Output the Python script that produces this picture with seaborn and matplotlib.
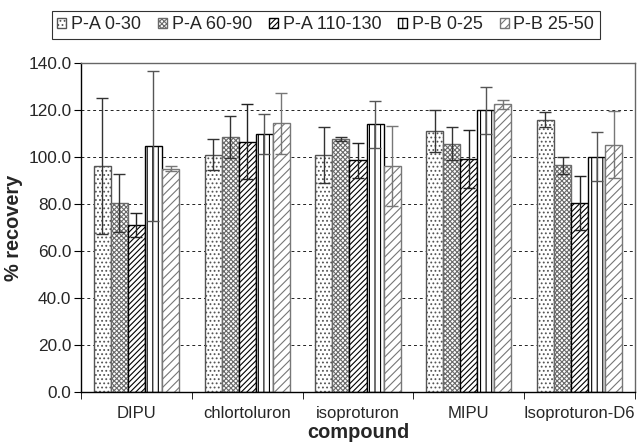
import numpy as np
import pandas as pd
import seaborn as sns
import matplotlib.pyplot as plt
from matplotlib.ticker import FixedLocator, FormatStrFormatter

compounds = ["DIPU", "chlortoluron", "isoproturon", "MIPU", "Isoproturon-D6"]
series = ["P-A 0-30", "P-A 60-90", "P-A 110-130", "P-B 0-25", "P-B 25-50"]

# mean recovery (%) per series, in compound order
pa_0_30 = [96.2, 101.0, 101.0, 111.1, 116.0]
pa_60_90 = [80.5, 108.5, 107.7, 105.7, 96.5]
pa_110_130 = [71.0, 106.5, 98.6, 99.0, 80.5]
pb_0_25 = [104.7, 109.7, 114.0, 119.9, 100.2]
pb_25_50 = [95.0, 114.3, 96.2, 122.5, 105.2]

# error bar half-widths
err_pa_0_30 = [29.0, 6.5, 12.0, 9.0, 3.0]
err_pa_60_90 = [12.4, 9.0, 1.0, 7.0, 3.7]
err_pa_110_130 = [5.0, 16.0, 7.4, 12.4, 11.4]
err_pb_0_25 = [32.0, 8.5, 10.0, 10.0, 10.5]
err_pb_25_50 = [1.0, 12.8, 17.0, 2.0, 14.3]

means = [pa_0_30, pa_60_90, pa_110_130, pb_0_25, pb_25_50]
errs = [err_pa_0_30, err_pa_60_90, err_pa_110_130, err_pb_0_25, err_pb_25_50]

rows = []
for s, m in zip(series, means):
    for c, v in zip(compounds, m):
        rows.append({"compound": c, "series": s, "recovery": v})
df = pd.DataFrame(rows)

sns.set_style("white")
plt.rcParams['font.family'] = ['Liberation Sans', 'DejaVu Sans']
plt.rcParams['hatch.linewidth'] = 0.8

fig, ax = plt.subplots(figsize=(6.43, 4.42), dpi=100)
fig.subplots_adjust(left=0.126, right=0.9876, top=0.857, bottom=0.114)

sns.barplot(data=df, x="compound", y="recovery", hue="series", order=compounds,
            hue_order=series, errorbar=None, width=0.77,
            palette=["white"] * 5, ax=ax, zorder=2, legend=False)

hatches = ["....", "xxxxxxx", "//////", "|||", "////"]
hatch_cols = ["#555555", "#6a6a6a", "black", "black", "#777777"]
err_cols = ["#333333", "#333333", "#222222", "#555555", "#777777"]

for cont, h, hc, erc, e in zip(ax.containers, hatches, hatch_cols, err_cols, errs):
    xs, ys = [], []
    for bar in cont:
        bar.set_hatch(h)
        bar.set_edgecolor(hc)
        bar.set_facecolor("white")
        bar.set_linewidth(1.0)
        xs.append(bar.get_x() + bar.get_width() / 2)
        ys.append(bar.get_height())
    ax.errorbar(xs, ys, yerr=e, fmt="none", ecolor=erc, elinewidth=1.0,
                capsize=4, capthick=1.0, zorder=3)

ax.set_ylim(0, 140)
ax.set_xlim(-0.5, 4.5)
ax.set_yticks(np.arange(0, 141, 20))
ax.yaxis.set_major_formatter(FormatStrFormatter("%.1f"))
ax.yaxis.grid(True, linestyle=(0, (3, 3)), color="#222222", linewidth=0.7)
ax.set_axisbelow(True)

ax.xaxis.set_minor_locator(FixedLocator(np.arange(-0.5, 4.6, 1.0)))
ax.tick_params(axis="x", which="major", length=0, labelsize=12, pad=10)
ax.tick_params(axis="x", which="minor", length=5, direction="out", color="black", bottom=True)
ax.tick_params(axis="y", which="major", length=5, direction="out", color="black", left=True,
               labelsize=12.4, pad=2)

for side in ["left", "bottom"]:
    ax.spines[side].set_color("black")
    ax.spines[side].set_linewidth(1.0)
for side in ["top", "right"]:
    ax.spines[side].set_color("#666666")
    ax.spines[side].set_linewidth(1.0)

ax.set_xlabel("compound", fontsize=14.4, fontweight="bold", labelpad=2)
ax.set_ylabel("% recovery", fontsize=14.4, fontweight="bold", labelpad=4)

handles = [cont[0] for cont in ax.containers]
leg = ax.legend(handles, series, loc="upper center", bbox_to_anchor=(0.442, 1.159), ncol=5,
                frameon=True, fancybox=False, edgecolor="black", fontsize=13,
                handlelength=0.5, handleheight=0.5, handletextpad=0.25,
                columnspacing=0.95, borderpad=0.3, borderaxespad=0)
leg.get_frame().set_linewidth(0.8)

fig.savefig("out.png", dpi=100)
